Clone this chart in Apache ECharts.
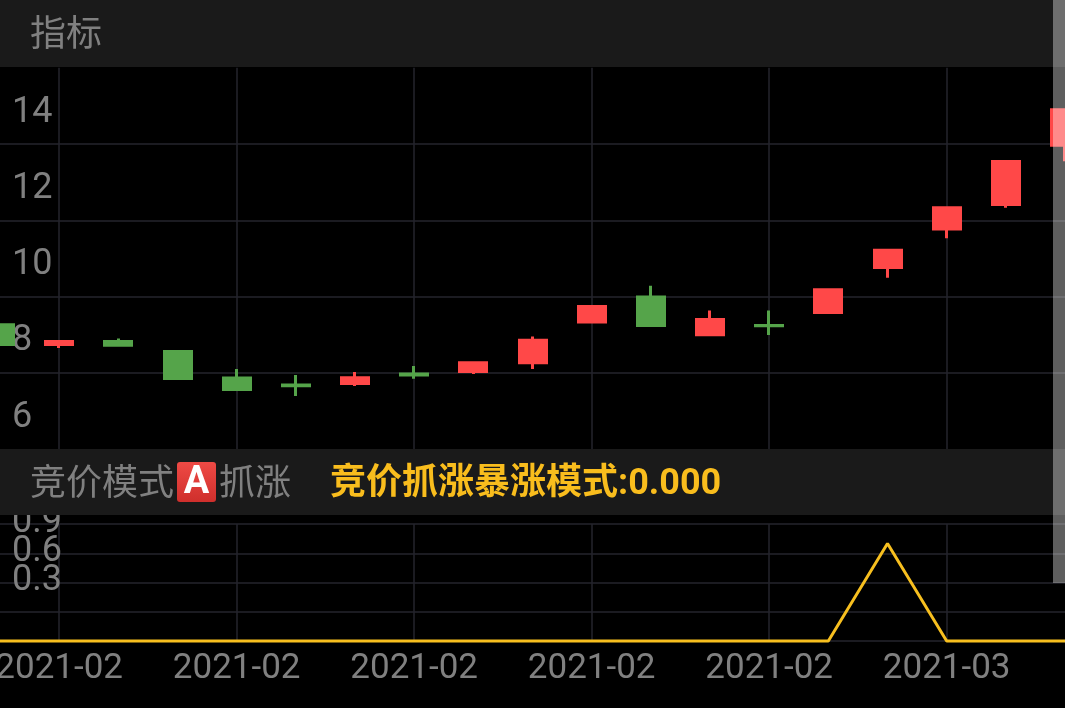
<!DOCTYPE html>
<html>
<head>
<meta charset="utf-8">
<style>
  html, body { margin: 0; padding: 0; background: #000; }
  #chart { width: 1065px; height: 708px; }
</style>
<script src="https://cdn.jsdelivr.net/npm/echarts@6/dist/echarts.min.js"></script>
</head>
<body>
<div id="chart"></div>
<script>
var dates = ['2021-02', '2021-02', '2021-02', '2021-02', '2021-02', '2021-02', '2021-02', '2021-02', '2021-02', '2021-02',
  '2021-02', '2021-02', '2021-02', '2021-02', '2021-02', '2021-02', '2021-03', '2021-03', '2021-03']
// open, close, low, high
var kline = [
  [9.26, 8.74, 8.74, 9.26],
  [8.74, 8.82, 8.65, 8.86],
  [8.82, 8.72, 8.72, 8.90],
  [8.56, 7.85, 7.85, 8.56],
  [7.86, 7.56, 7.56, 8.10],
  [7.68, 7.66, 7.39, 7.94],
  [7.72, 7.87, 7.65, 8.02],
  [7.97, 7.94, 7.84, 8.18],
  [8.03, 8.26, 7.97, 8.30],
  [8.26, 8.85, 8.10, 8.95],
  [9.33, 9.74, 9.33, 9.74],
  [9.99, 9.24, 9.24, 10.28],
  [9.00, 9.40, 9.00, 9.63],
  [9.24, 9.23, 8.99, 9.63],
  [9.58, 10.18, 9.58, 10.18],
  [10.76, 11.21, 10.49, 11.21],
  [11.77, 12.33, 11.53, 12.33],
  [12.41, 13.54, 12.33, 13.54],
  [13.97, 14.90, 13.55, 14.90]
]
var signal = [0, 0, 0, 0, 0, 0, 0, 0, 0, 0, 0, 0, 0, 0, 0, 1, 0, 0, 0]

var mainTitle = '指标'
var subTitleLeft = '竞价模式'
var subTitleBadge = 'A'
var subTitleRight = '抓涨'
var signalLabel = '竞价抓涨暴涨模式:0.000'

var gray = '#808080'
var gridColor = '#24242c'
var font = 'Roboto'
var cjk = '"Noto Sans CJK SC"'

function everyThird(index) {
  return index % 3 === 1
}

var splitLine = { show: true, interval: everyThird, lineStyle: { color: gridColor, width: 1.5 } }

var chart = echarts.init(document.getElementById('chart'))
chart.setOption({
  backgroundColor: '#000',
  animation: false,
  grid: [
    { left: 0, width: 1065, top: 67.75, height: 381.25, outerBoundsMode: 'none' },
    { left: 0, width: 1065, top: 524, height: 117, outerBoundsMode: 'none' }
  ],
  xAxis: [
    {
      type: 'category', gridIndex: 0, data: dates, boundaryGap: false,
      axisLine: { show: false }, axisTick: { show: false }, axisLabel: { show: false },
      splitLine: splitLine
    },
    {
      type: 'category', gridIndex: 1, data: dates, boundaryGap: false,
      axisLine: { show: false }, axisTick: { show: false },
      axisLabel: { interval: everyThird, color: gray, fontFamily: font, fontSize: 35, margin: 11, hideOverlap: false },
      splitLine: splitLine
    }
  ],
  yAxis: [
    {
      type: 'value', gridIndex: 0, min: 6, max: 16, interval: 2,
      axisLine: { show: false }, axisTick: { show: false },
      axisLabel: {
        inside: true, margin: 12, color: gray, fontFamily: font, fontSize: 36,
        verticalAlign: 'bottom', padding: [0, 0, 13.5, 0], showMaxLabel: false
      },
      splitLine: { show: true, showMinLine: false, showMaxLine: false, lineStyle: { color: gridColor, width: 1.5 } }
    },
    {
      type: 'value', gridIndex: 1, min: 0, max: 1.2, interval: 0.3,
      axisLine: { show: false }, axisTick: { show: false },
      axisLabel: {
        inside: true, margin: 12, color: gray, fontFamily: font, fontSize: 36,
        verticalAlign: 'bottom', padding: [0, 0, 12.5, 0], showMinLabel: false, showMaxLabel: false,
        formatter: function (v) { return v.toFixed(1) }
      },
      splitLine: { show: true, lineStyle: { color: gridColor, width: 1.5 } }
    }
  ],
  series: [
    {
      type: 'candlestick', xAxisIndex: 0, yAxisIndex: 0, data: kline, barWidth: 27.5, clip: false,
      itemStyle: { color: '#ff4848', color0: '#55a44a', borderColor: '#ff4848', borderColor0: '#55a44a', borderWidth: 3 }
    },
    {
      type: 'line', xAxisIndex: 1, yAxisIndex: 1, data: signal, showSymbol: false, clip: false,
      lineStyle: { color: '#f7bf1f', width: 3 }
    }
  ],
  graphic: [
    { type: 'rect', z: 20, shape: { x: 0, y: 0, width: 1065, height: 67 }, style: { fill: '#1a1a1a' } },
    { type: 'rect', z: 20, shape: { x: 0, y: 449, width: 1065, height: 66 }, style: { fill: '#1a1a1a' } },
    { type: 'text', z: 21, x: 30, y: 32, style: { text: mainTitle, fill: gray, font: '36px ' + cjk, textVerticalAlign: 'middle' } },
    { type: 'text', z: 21, x: 30, y: 481, style: { text: subTitleLeft, fill: gray, font: '36px ' + cjk, textVerticalAlign: 'middle' } },
    {
      type: 'rect', z: 21, shape: { x: 177, y: 462, width: 39, height: 40, r: 3 },
      style: { fill: new echarts.graphic.LinearGradient(0, 0, 0, 1, [{ offset: 0, color: '#ef4a45' }, { offset: 1, color: '#cf2f2c' }]) }
    },
    { type: 'text', z: 22, x: 196.5, y: 483, style: { text: subTitleBadge, fill: '#fff', font: 'bold 38px ' + font, textAlign: 'center', textVerticalAlign: 'middle' } },
    { type: 'text', z: 21, x: 219, y: 481, style: { text: subTitleRight, fill: gray, font: '36px ' + cjk, textVerticalAlign: 'middle' } },
    { type: 'text', z: 21, x: 330, y: 485, style: { text: signalLabel, fill: '#f9bd1d', font: 'bold 36px Roboto, ' + cjk, textVerticalAlign: 'middle' } },
    { type: 'rect', z: 30, shape: { x: 1053, y: 0, width: 12, height: 583 }, style: { fill: 'rgba(255,255,255,0.37)' } }
  ]
})
</script>
</body>
</html>
